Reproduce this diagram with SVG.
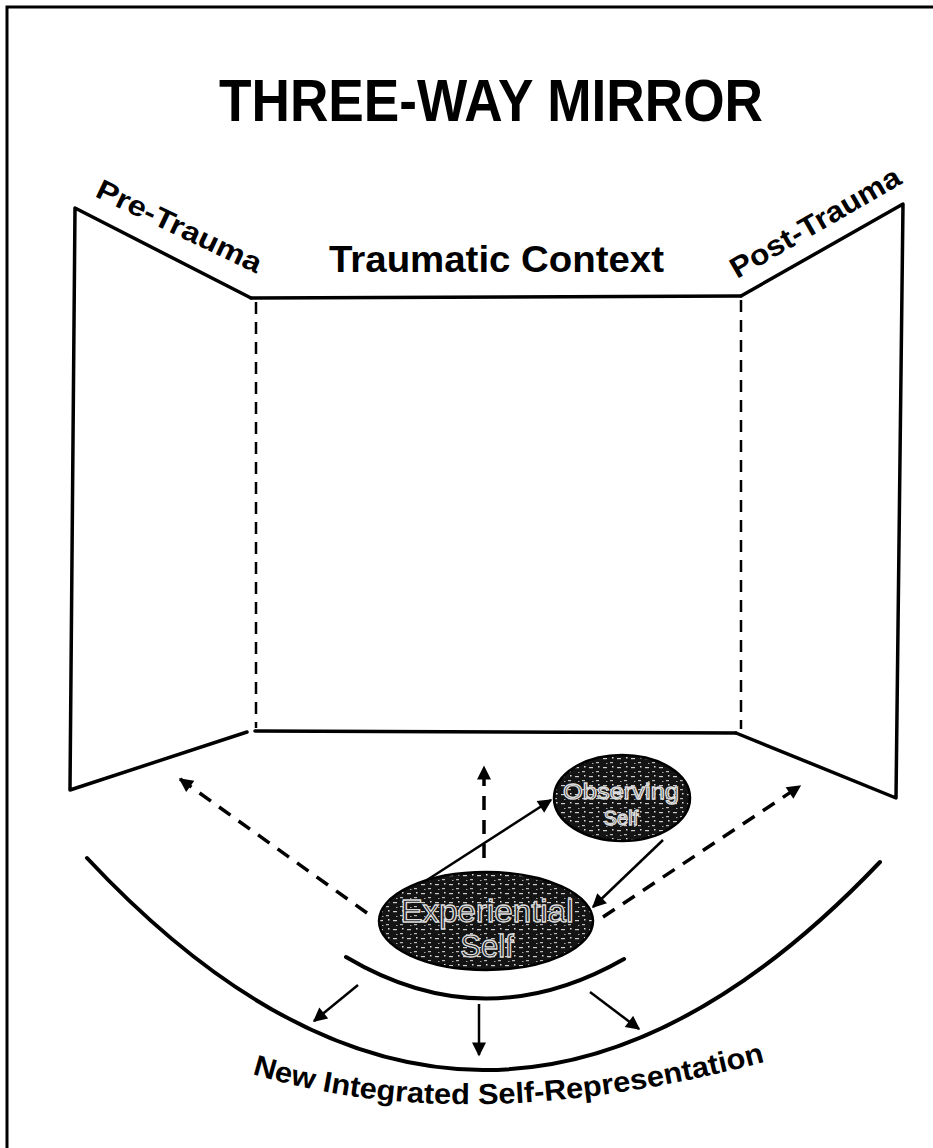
<svg xmlns="http://www.w3.org/2000/svg" width="933" height="1148" viewBox="0 0 933 1148">
<style>
.frame{fill:none;stroke:#000;stroke-width:3.5;stroke-linejoin:round;stroke-linecap:round}
.dashv{fill:none;stroke:#000;stroke-width:2.5;stroke-dasharray:12 8}
.arc{fill:none;stroke:#000;stroke-width:4;stroke-linecap:round}
.sol{fill:none;stroke:#000;stroke-width:2.5}
.dsh{fill:none;stroke:#000;stroke-width:3.5;stroke-dasharray:14 10}
.lbl{font-family:"Liberation Sans",Arial,sans-serif;font-weight:bold;fill:#000}
.eltxt{font-family:"Liberation Sans",Arial,sans-serif;fill:#1a1a1a;stroke:#dcdcdc;stroke-width:1.3}
.blob{fill:url(#mottle);stroke:#000;stroke-width:2.5}
</style>
<defs>
<marker id="ah" viewBox="0 0 10 10" refX="9" refY="5" markerWidth="16" markerHeight="14" markerUnits="userSpaceOnUse" orient="auto">
<path d="M0,0 L10,5 L0,10 Z" fill="#000"/>
</marker>
<pattern id="mottle" width="14" height="9" patternUnits="userSpaceOnUse">
<rect width="14" height="9" fill="#141414"/>
<rect x="1" y="2" width="4" height="1.2" fill="#cfcfcf"/>
<rect x="8" y="6" width="3" height="1.2" fill="#bdbdbd"/>
<rect x="10" y="1" width="1.5" height="1.5" fill="#e0e0e0"/>
<rect x="4" y="7" width="1.5" height="1" fill="#a8a8a8"/>
</pattern>
</defs>
<rect width="933" height="1148" fill="#fff"/>
<path d="M7,1148 L7,7 L933,7" fill="none" stroke="#000" stroke-width="3"/>

<g id="title">
<text class="lbl" x="491" y="121" font-size="60" text-anchor="middle" textLength="544" lengthAdjust="spacingAndGlyphs">THREE-WAY MIRROR</text>
</g>

<g id="pre-trauma">
<path class="frame" d="M251,298 L75,208 L70,790 L247,732"/>
<text class="lbl" font-size="28" transform="translate(94,196) rotate(25.5)" textLength="180" lengthAdjust="spacingAndGlyphs">Pre-Trauma</text>
</g>

<g id="traumatic-context">
<path class="frame" d="M251,298 L741,296"/>
<path class="frame" d="M255,731 L736,733"/>
<path class="dashv" d="M256,302 L256,728"/>
<path class="dashv" d="M741,300 L741,729"/>
<text class="lbl" x="329" y="272" font-size="37" textLength="335" lengthAdjust="spacingAndGlyphs">Traumatic Context</text>
</g>

<g id="post-trauma">
<path class="frame" d="M741,296 L903,204 L896,798 L736,733"/>
<text class="lbl" font-size="29" transform="translate(737,279) rotate(-30)" textLength="192" lengthAdjust="spacingAndGlyphs">Post-Trauma</text>
</g>

<g id="connectors">
<path class="dsh" d="M367,913 L180,779" marker-end="url(#ah)"/>
<path class="dsh" d="M484,858 L484,767" marker-end="url(#ah)"/>
<path class="dsh" d="M603,917 L800,786" marker-end="url(#ah)"/>
<path class="sol" d="M427,880 L551,800" marker-end="url(#ah)"/>
<path class="sol" d="M663,840 L593,907" marker-end="url(#ah)"/>
<path class="sol" d="M358,985 L314,1021" marker-end="url(#ah)"/>
<path class="sol" d="M479,1004 L479,1055" marker-end="url(#ah)"/>
<path class="sol" d="M590,992 L639,1029" marker-end="url(#ah)"/>
</g>

<g id="observing-self">
<ellipse class="blob" cx="622" cy="798" rx="68" ry="43"/>
<text class="eltxt" x="621" y="799" font-size="22" text-anchor="middle" textLength="116" lengthAdjust="spacingAndGlyphs">Observing</text>
<text class="eltxt" x="621" y="825" font-size="20" text-anchor="middle">Self</text>
</g>

<g id="experiential-self">
<ellipse class="blob" cx="486" cy="921" rx="107" ry="49"/>
<text class="eltxt" x="487" y="922" font-size="31" text-anchor="middle" textLength="173" lengthAdjust="spacingAndGlyphs">Experiential</text>
<text class="eltxt" x="487" y="957" font-size="31" text-anchor="middle">Self</text>
</g>

<g id="integrated-self">
<path class="arc" d="M346,957 Q484,1039 624,959"/>
<path class="arc" d="M87,858 Q482,1280 880,862"/>
<path id="bpath" d="M252,1074 Q470,1140 764,1062" fill="none"/>
<text class="lbl" font-size="29"><textPath href="#bpath" textLength="520" lengthAdjust="spacingAndGlyphs">New Integrated Self-Representation</textPath></text>
</g>
</svg>
